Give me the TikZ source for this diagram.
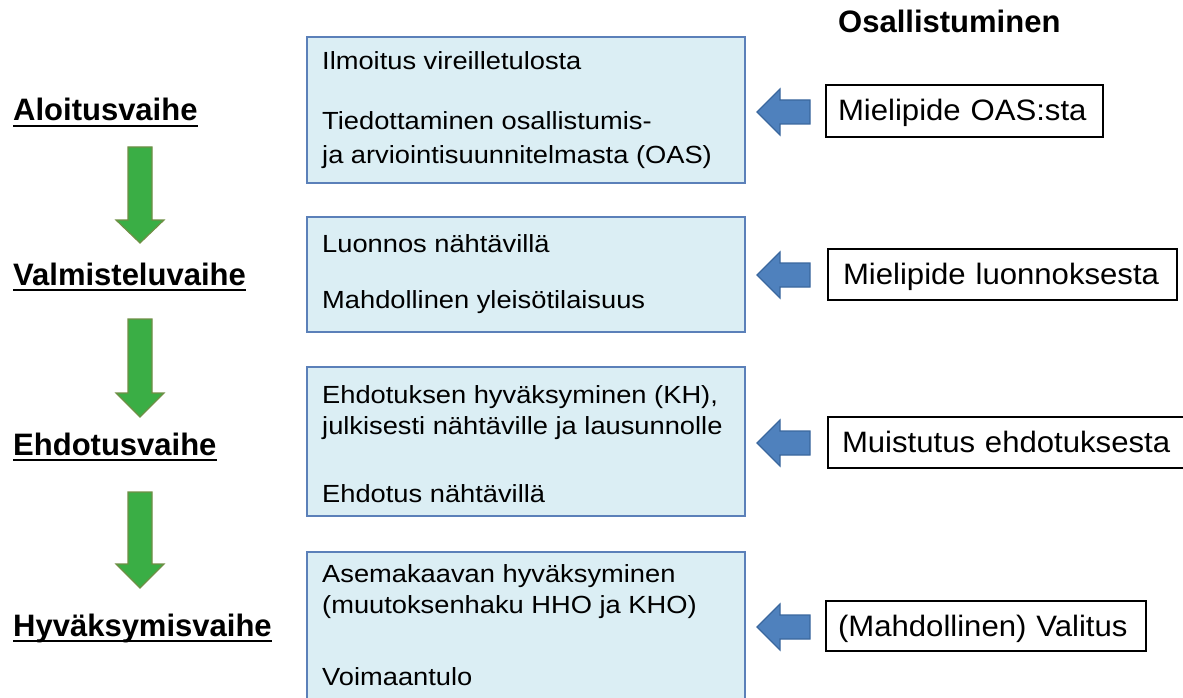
\documentclass[tikz,border=0pt]{standalone}
\usepackage{fontspec}
\setmainfont{Liberation Sans}
\newfontfamily\boxfont{Liberation Sans}[FakeStretch=1.10]
\newfontfamily\rfont{Liberation Sans}[FakeStretch=1.055]
\definecolor{boxfill}{HTML}{DBEEF4}
\definecolor{boxline}{HTML}{5B80B9}
\definecolor{bluefill}{HTML}{4F81BD}
\definecolor{blueline}{HTML}{3A679E}
\definecolor{greenfill}{HTML}{3AAE45}
\definecolor{greenline}{HTML}{6F8F45}
\tikzset{
  stagebox/.style={draw=boxline, fill=boxfill, line width=2pt, inner sep=0pt},
  boxtext/.style={anchor=base west, inner sep=0pt, font=\boxfont\fontsize{24.8}{30}\selectfont},
  rbox/.style={draw=black, line width=1.4pt, fill=white, inner xsep=0pt, inner ysep=0pt, align=left, text height=20pt, text depth=0pt, font=\rfont\fontsize{29.5}{34}\selectfont},
  phase/.style={anchor=base west, inner sep=0pt, font=\bfseries\fontsize{31}{36}\selectfont},
  uline/.style={line width=2.6pt},
  greenarr/.style={fill=greenfill, draw=greenline, line width=1.2pt},
  bluearr/.style={fill=bluefill, draw=blueline, line width=1.2pt},
}
\newcommand\downarrowshape[3]{% top, head, tip
  \filldraw[greenarr] (128,#1) -- (152,#1) -- (152,#2) -- (164,#2) -- (140,#3) -- (116,#2) -- (128,#2) -- cycle;}
\newcommand\leftarrowshape[1]{% tip y
  \filldraw[bluearr] (757,#1) -- (780,#1-23) -- (780,#1-12) -- (810,#1-12) -- (810,#1+12) -- (780,#1+12) -- (780,#1+23) -- cycle;}
\begin{document}
\begin{tikzpicture}[x=1pt,y=-1pt]
\useasboundingbox (0,0) rectangle (1183,698);
% heading
\node[phase] (head) at (838,33) {Osallistuminen};
% phase labels
\node[phase] (p1) at (13,121) {Aloitusvaihe};
\node[phase] (p2) at (13,285) {Valmisteluvaihe};
\node[phase] (p3) at (13,455) {Ehdotusvaihe};
\node[phase] (p4) at (13,636) {Hyväksymisvaihe};
\foreach \n in {p1,p2,p3,p4}
  \draw[uline] ([yshift=-5pt]\n.base west) -- ([yshift=-5pt]\n.base east);
% green arrows
\downarrowshape{147}{220}{243}
\downarrowshape{319}{393}{417}
\downarrowshape{492}{564}{588}
% stage boxes
\node[stagebox, minimum width=438pt, minimum height=146pt] (b1) at (526,110) {};
\node[stagebox, minimum width=438pt, minimum height=115pt] (b2) at (526,274.5) {};
\node[stagebox, minimum width=438pt, minimum height=149pt] (b3) at (526,441.5) {};
\node[stagebox, minimum width=438pt, minimum height=160pt] (b4) at (526,632) {};
\node[boxtext] (t11) at (322,70) {Ilmoitus vireilletulosta};
\node[boxtext] (t12) at (322,130) {Tiedottaminen osallistumis-};
\node[boxtext] (t13) at (322,163) {ja arviointisuunnitelmasta (OAS)};
\node[boxtext] (t21) at (322,252) {Luonnos nähtävillä};
\node[boxtext] (t22) at (322,308) {Mahdollinen yleisötilaisuus};
\node[boxtext] (t31) at (322,403) {Ehdotuksen hyväksyminen (KH),};
\node[boxtext] (t32) at (322,434) {julkisesti nähtäville ja lausunnolle};
\node[boxtext] (t33) at (322,502) {Ehdotus nähtävillä};
\node[boxtext] (t41) at (322,582) {Asemakaavan hyväksyminen};
\node[boxtext] (t42) at (322,613) {(muutoksenhaku HHO ja KHO)};
\node[boxtext] (t43) at (322,685) {Voimaantulo};
% blue arrows
\leftarrowshape{112}
\leftarrowshape{275}
\leftarrowshape{443}
\leftarrowshape{627}
% participation boxes
\node[rbox, minimum width=277pt, minimum height=52pt, text width=277pt] (r1) at (964.5,111) {\hspace*{12pt}Mielipide OAS:sta};
\node[rbox, minimum width=349pt, minimum height=51pt, text width=349pt] (r2) at (1002.5,274.5) {\hspace*{15pt}Mielipide luonnoksesta};
\node[rbox, minimum width=367pt, minimum height=51pt, text width=367pt] (r3) at (1011.5,442.5) {\hspace*{14pt}Muistutus ehdotuksesta};
\node[rbox, minimum width=320pt, minimum height=50pt, text width=320pt] (r4) at (986,626) {\hspace*{12pt}(Mahdollinen) Valitus};
\end{tikzpicture}
\end{document}
